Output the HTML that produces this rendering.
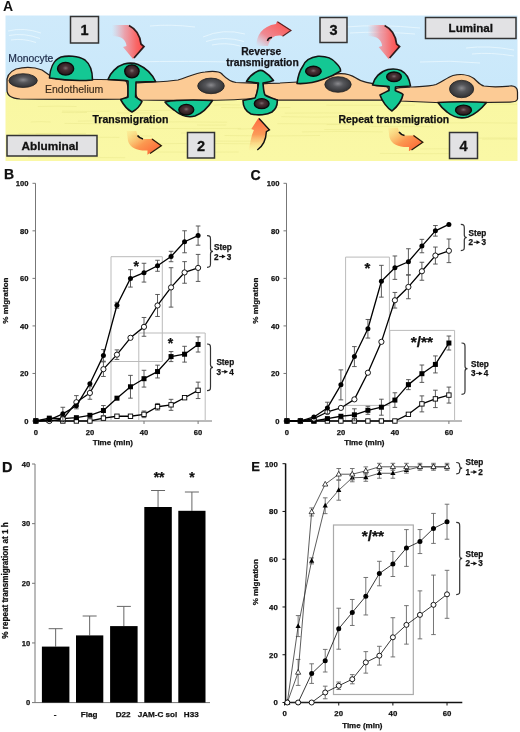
<!DOCTYPE html>
<html><head><meta charset="utf-8"><style>
html,body{margin:0;padding:0;background:#fff;width:520px;height:732px;overflow:hidden;}
svg{display:block;will-change:transform;}
text{font-family:"Liberation Sans",sans-serif;}
</style></head><body>
<svg width="520" height="732" viewBox="0 0 520 732">
<rect width="520" height="732" fill="#fff"/>
<defs>
<linearGradient id="gblue" x1="0" y1="0" x2="0" y2="1"><stop offset="0" stop-color="#cfeafb"/><stop offset="1" stop-color="#c9e8fa"/></linearGradient>
<linearGradient id="gyel" x1="0" y1="0" x2="0" y2="1"><stop offset="0" stop-color="#f9f7a2"/><stop offset="1" stop-color="#faf8a6"/></linearGradient>
<radialGradient id="gnuc" cx="0.5" cy="0.45" r="0.6"><stop offset="0" stop-color="#8a8a8e"/><stop offset="0.35" stop-color="#55565a"/><stop offset="1" stop-color="#2a2a2c"/></radialGradient>
<radialGradient id="gnucm" cx="0.5" cy="0.45" r="0.6"><stop offset="0" stop-color="#7a6a6e"/><stop offset="0.3" stop-color="#4a3236"/><stop offset="0.8" stop-color="#2a1a1e"/><stop offset="1" stop-color="#141012"/></radialGradient>
<linearGradient id="gred1" x1="0" y1="0" x2="1" y2="0"><stop offset="0" stop-color="#f4a0a8" stop-opacity="0"/><stop offset="0.4" stop-color="#f48890" stop-opacity="0.75"/><stop offset="0.75" stop-color="#f86868"/><stop offset="1" stop-color="#ff4848"/></linearGradient>
<linearGradient id="gred2" x1="0" y1="1" x2="1" y2="0"><stop offset="0" stop-color="#f4a0a8" stop-opacity="0"/><stop offset="0.35" stop-color="#f47880" stop-opacity="0.85"/><stop offset="1" stop-color="#ff4a44"/></linearGradient>
<linearGradient id="gor1" x1="0" y1="0" x2="1" y2="1"><stop offset="0" stop-color="#fcd070" stop-opacity="0.2"/><stop offset="0.5" stop-color="#fb9850"/><stop offset="1" stop-color="#ff5a30"/></linearGradient>
<linearGradient id="gor2" x1="0" y1="1" x2="0" y2="0"><stop offset="0" stop-color="#fcd070" stop-opacity="0"/><stop offset="0.5" stop-color="#fb9a58"/><stop offset="1" stop-color="#ff6a40"/></linearGradient>
</defs>
<rect x="5.5" y="15.5" width="512" height="80" fill="url(#gblue)"/>
<rect x="5.5" y="92" width="512" height="69" fill="url(#gyel)"/>
<path d="M77.9 121.1 q39.3 -0.9 78.6 0" stroke="#e9e68a" stroke-width="0.9" fill="none" opacity="0.55"/>
<path d="M181.0 133.0 q12.6 0.0 25.2 0" stroke="#e9e68a" stroke-width="0.9" fill="none" opacity="0.55"/>
<path d="M213.6 105.1 q13.1 -0.8 26.3 0" stroke="#e9e68a" stroke-width="0.9" fill="none" opacity="0.55"/>
<path d="M402.4 126.8 q15.6 -0.6 31.1 0" stroke="#e9e68a" stroke-width="0.9" fill="none" opacity="0.55"/>
<path d="M460.4 138.1 q28.3 -0.2 56.6 0" stroke="#e9e68a" stroke-width="0.9" fill="none" opacity="0.55"/>
<path d="M27.9 157.7 q48.6 -0.4 97.3 0" stroke="#e9e68a" stroke-width="0.9" fill="none" opacity="0.55"/>
<path d="M62.0 111.1 q23.9 0.6 47.8 0" stroke="#e9e68a" stroke-width="0.9" fill="none" opacity="0.55"/>
<path d="M284.7 113.1 q38.8 -0.3 77.5 0" stroke="#e9e68a" stroke-width="0.9" fill="none" opacity="0.55"/>
<path d="M35.6 133.7 q12.7 -0.6 25.4 0" stroke="#e9e68a" stroke-width="0.9" fill="none" opacity="0.55"/>
<path d="M210.7 141.1 q24.1 0.2 48.3 0" stroke="#e9e68a" stroke-width="0.9" fill="none" opacity="0.55"/>
<path d="M149.4 128.4 q45.7 0.4 91.5 0" stroke="#e9e68a" stroke-width="0.9" fill="none" opacity="0.55"/>
<path d="M281.2 116.7 q33.6 0.8 67.3 0" stroke="#e9e68a" stroke-width="0.9" fill="none" opacity="0.55"/>
<path d="M143.7 143.8 q54.1 -0.8 108.2 0" stroke="#e9e68a" stroke-width="0.9" fill="none" opacity="0.55"/>
<path d="M368.9 126.4 q16.8 -0.0 33.7 0" stroke="#e9e68a" stroke-width="0.9" fill="none" opacity="0.55"/>
<path d="M326.2 105.2 q44.4 0.1 88.8 0" stroke="#e9e68a" stroke-width="0.9" fill="none" opacity="0.55"/>
<path d="M156.1 152.0 q41.3 0.2 82.6 0" stroke="#e9e68a" stroke-width="0.9" fill="none" opacity="0.55"/>
<path d="M224.5 135.5 q47.8 0.9 95.6 0" stroke="#e9e68a" stroke-width="0.9" fill="none" opacity="0.55"/>
<path d="M324.3 129.5 q12.7 0.4 25.5 0" stroke="#e9e68a" stroke-width="0.9" fill="none" opacity="0.55"/>
<path d="M482.2 139.2 q17.4 -0.4 34.8 0" stroke="#e9e68a" stroke-width="0.9" fill="none" opacity="0.55"/>
<path d="M326.5 124.6 q11.0 -0.1 22.0 0" stroke="#e9e68a" stroke-width="0.9" fill="none" opacity="0.55"/>
<path d="M61.7 112.4 q12.7 0.5 25.3 0" stroke="#e9e68a" stroke-width="0.9" fill="none" opacity="0.55"/>
<path d="M124.4 110.2 q27.6 0.7 55.2 0" stroke="#e9e68a" stroke-width="0.9" fill="none" opacity="0.55"/>
<path d="M221.1 107.5 q34.7 0.8 69.4 0" stroke="#e9e68a" stroke-width="0.9" fill="none" opacity="0.55"/>
<path d="M420.2 148.9 q22.5 -0.2 45.1 0" stroke="#e9e68a" stroke-width="0.9" fill="none" opacity="0.55"/>
<path d="M429.9 123.1 q43.5 -0.7 87.1 0" stroke="#e9e68a" stroke-width="0.9" fill="none" opacity="0.55"/>
<path d="M116.8 112.9 q20.5 -0.0 41.0 0" stroke="#e9e68a" stroke-width="0.9" fill="none" opacity="0.55"/>
<path d="M131.6 136.0 q10.2 -0.2 20.4 0" stroke="#e9e68a" stroke-width="0.9" fill="none" opacity="0.55"/>
<path d="M277.3 123.7 q52.9 0.4 105.8 0" stroke="#e9e68a" stroke-width="0.9" fill="none" opacity="0.55"/>
<path d="M301.9 131.9 q40.4 -0.9 80.9 0" stroke="#e9e68a" stroke-width="0.9" fill="none" opacity="0.55"/>
<path d="M379.9 153.4 q49.4 0.6 98.7 0" stroke="#e9e68a" stroke-width="0.9" fill="none" opacity="0.55"/>
<path d="M197.0 125.0 q14.7 0.3 29.3 0" stroke="#e9e68a" stroke-width="0.9" fill="none" opacity="0.55"/>
<path d="M37.8 106.5 q19.4 -0.7 38.8 0" stroke="#e9e68a" stroke-width="0.9" fill="none" opacity="0.55"/>
<path d="M30.7 122.0 q10.0 -0.7 20.0 0" stroke="#e9e68a" stroke-width="0.9" fill="none" opacity="0.55"/>
<path d="M180.0 108.7 q11.1 0.7 22.3 0" stroke="#e9e68a" stroke-width="0.9" fill="none" opacity="0.55"/>
<path d="M76.8 137.4 q21.4 -0.3 42.7 0" stroke="#e9e68a" stroke-width="0.9" fill="none" opacity="0.55"/>
<path d="M64.5 123.4 q48.2 1.0 96.4 0" stroke="#e9e68a" stroke-width="0.9" fill="none" opacity="0.55"/>
<path d="M237.7 129.1 q13.9 -0.8 27.7 0" stroke="#e9e68a" stroke-width="0.9" fill="none" opacity="0.55"/>
<path d="M132.6 122.2 q47.3 -0.7 94.6 0" stroke="#e9e68a" stroke-width="0.9" fill="none" opacity="0.55"/>
<path d="M462.0 104.3 q27.5 -0.7 55.0 0" stroke="#e9e68a" stroke-width="0.9" fill="none" opacity="0.55"/>
<path d="M18.5 133.4 q33.8 1.0 67.5 0" stroke="#e9e68a" stroke-width="0.9" fill="none" opacity="0.55"/>
<path d="M8 31 q16 -4 33 2" stroke="#eaf7fe" stroke-width="0.9" fill="none" opacity="0.9"/>
<path d="M9 35.5 q15 -3 31 3" stroke="#eaf7fe" stroke-width="0.9" fill="none" opacity="0.9"/>
<path d="M11 40 q12 -2 25 2.5" stroke="#eaf7fe" stroke-width="0.9" fill="none" opacity="0.9"/>
<path d="M203 37 q20 -9 42 -3" stroke="#eaf7fe" stroke-width="0.9" fill="none" opacity="0.9"/>
<path d="M206 41.5 q18 -6 38 0" stroke="#eaf7fe" stroke-width="0.9" fill="none" opacity="0.9"/>
<path d="M212 45 q14 -3 28 1" stroke="#eaf7fe" stroke-width="0.9" fill="none" opacity="0.9"/>
<path d="M130 62 q60 -1.5 115 0.5" stroke="#eaf7fe" stroke-width="0.9" fill="none" opacity="0.9"/>
<path d="M345 27 q35 -3 75 1" stroke="#eaf7fe" stroke-width="0.9" fill="none" opacity="0.9"/>
<path d="M350 33 q30 -2 65 1" stroke="#eaf7fe" stroke-width="0.9" fill="none" opacity="0.9"/>
<path d="M466 48 q22 -3 48 2" stroke="#eaf7fe" stroke-width="0.9" fill="none" opacity="0.9"/>
<path d="M472 54 q18 -2 42 2" stroke="#eaf7fe" stroke-width="0.9" fill="none" opacity="0.9"/>
<path d="M150 26 q20 -2 45 1" stroke="#eaf7fe" stroke-width="0.9" fill="none" opacity="0.9"/>
<path d="M420 62 q30 -2 60 1" stroke="#eaf7fe" stroke-width="0.9" fill="none" opacity="0.9"/>
<path d="M7 84 C6 77 9 72 16 69 C24 67 34 67 42 70 C47 73 50 77 56 79 L100 79.5 C112 79.5 122 79.5 126 81 C128.5 84 128.5 96 126.5 99 C110 99.5 60 99.5 20 99 C12 98.5 7 96.5 7 90 Z" fill="#fccb95" stroke="#262220" stroke-width="1.25" stroke-linejoin="round"/>
<path d="M135.6 83 C145 82 165 82 178 80 C188 77 195 73 205 72 C213 71 219 71 222 74 C225 77 228 81 236 82.5 C245 83 252 83 257.5 83.5 C258.5 88 257 94 255 98.5 C230 100.5 170 100.5 140 100 C136.5 99 135.6 96 135.6 90 Z" fill="#fccb95" stroke="#262220" stroke-width="1.25" stroke-linejoin="round"/>
<path d="M263 84 C266 83 272 83 280 83 L298 82 C312 81 325 76 333 74.5 C342 72.5 350 74 356 78 C362 82.5 372 84 384 85 C388 86 389.5 91 389 96 C388.5 100 385 100.2 380 100.2 L278 100.2 C272 99 266 97 264 94.5 C263 91 262.8 87 263 84 Z" fill="#fccb95" stroke="#262220" stroke-width="1.25" stroke-linejoin="round"/>
<path d="M395.5 89 C397 87.3 402 87 410 87 C420 86.5 430 86.5 436 84.5 C442 82 447 77.5 453 75.5 C459 74 468 74 474 78.5 C478 82 480 85 484 86 C490 87 500 87 510 86 C515 85.5 517.5 88 517.5 92 L517.5 99 C517 101.5 514 102 510 102 L447 103 L400 101 C396.5 100.5 395.5 98 395.5 95 Z" fill="#fccb95" stroke="#262220" stroke-width="1.25" stroke-linejoin="round"/>
<ellipse cx="23.1" cy="80.6" rx="14.2" ry="6.9" fill="url(#gnuc)" stroke="#222" stroke-width="0.8"/>
<ellipse cx="211" cy="85.9" rx="13.3" ry="7.8" fill="url(#gnuc)" stroke="#222" stroke-width="0.8"/>
<ellipse cx="338" cy="84.5" rx="13.2" ry="7.8" fill="url(#gnuc)" stroke="#222" stroke-width="0.8"/>
<ellipse cx="461.6" cy="89" rx="12.1" ry="8.7" fill="url(#gnuc)" stroke="#222" stroke-width="0.8"/>
<path d="M49.5 78 C50 70 53 60 61 57 C67 55.5 78 55.5 85 60 C90 64 92.5 72 92.5 80 C80 81 62 80 49.5 78 Z" fill="#14c894" stroke="#141414" stroke-width="1.6" stroke-linejoin="round"/>
<path d="M108 79.5 C110 73 117 66 124 64 C128 63 134 63 138 64.5 C146 68 152 74 155.6 81.5 C150 82 142 81.5 136 82 L135.6 97 C138 99 141 100 142 101.5 C140 106 136 110 132 112 C128 110 123 104 120.6 99.5 C123 98.5 126 98 128 97 L128 81 C121 80 114 80 108 79.5 Z" fill="#14c894" stroke="#141414" stroke-width="1.6" stroke-linejoin="round"/>
<path d="M165 102 C175 100 200 100 212.5 100.5 C209 106 203 113 195 116 C188 118 180 115 174 110 C170 107 167 104.5 165 102 Z" fill="#14c894" stroke="#141414" stroke-width="1.6" stroke-linejoin="round"/>
<path d="M246.5 81.5 C249 77 253 73.5 257 71.5 C259 70.3 262 70 264 71.5 C268 74 271 77 273.5 80.5 C270 82 266 82.5 263 83 C263.5 88 263.5 92 265 95 C268 97 273 98.5 277.3 100 C277.5 104 276 109 272 112 C267 115 258 115.5 251 114 C246 111.5 243 107 243 100.5 C248 99.5 253 98.5 255 98 C257 94 258 88 258.5 83 C254 82.5 250 82 246.5 81.5 Z" fill="#14c894" stroke="#141414" stroke-width="1.6" stroke-linejoin="round"/>
<path d="M297 83.5 C298 76 300 70 303 66 C305 61 309 57.5 318 56.3 C326 56 332 58 336 63 C339 66 341 69 340.6 71 C336 74 330 77 324 79 C316 82 305 84 297 83.5 Z" fill="#14c894" stroke="#141414" stroke-width="1.6" stroke-linejoin="round"/>
<path d="M372.5 85 C374 78 380 71.5 388 69.5 C392 68.8 397 68.8 401 70.5 C406 73 409.5 79 410.5 86 C405 86.5 400 86.5 395.5 87 L395.3 90.5 C398 92 402 93 403 94.5 C402 100 398 106 392 111 C387 108 382 101 380 95 C383 93 386 92 389 90.5 L389 86.5 C383 86 377 86 372.5 85 Z" fill="#14c894" stroke="#141414" stroke-width="1.6" stroke-linejoin="round"/>
<path d="M438 102.5 C450 101.5 475 101.5 486.5 102.5 C482 108 476 114 468 117 C461 119 453 117 447 112 C443 109 440 105.5 438 102.5 Z" fill="#14c894" stroke="#141414" stroke-width="1.6" stroke-linejoin="round"/>
<ellipse cx="65.6" cy="68.75" rx="8.1" ry="6.3" fill="url(#gnucm)" stroke="#0a0a0a" stroke-width="1.3"/>
<ellipse cx="131.9" cy="71.3" rx="7.2" ry="6.5" fill="url(#gnucm)" stroke="#0a0a0a" stroke-width="1.3"/>
<ellipse cx="186.3" cy="109.7" rx="7.5" ry="5.3" fill="url(#gnucm)" stroke="#0a0a0a" stroke-width="1.3"/>
<ellipse cx="261.7" cy="103.7" rx="7.4" ry="5" fill="url(#gnucm)" stroke="#0a0a0a" stroke-width="1.3"/>
<ellipse cx="313.4" cy="71.25" rx="7.8" ry="5" fill="url(#gnucm)" stroke="#0a0a0a" stroke-width="1.3"/>
<ellipse cx="394" cy="76.8" rx="7.4" ry="4.8" fill="url(#gnucm)" stroke="#0a0a0a" stroke-width="1.3"/>
<ellipse cx="463.5" cy="110.2" rx="8" ry="5" fill="url(#gnucm)" stroke="#0a0a0a" stroke-width="1.3"/>
<path d="M112 25 L128 25 C135 28 140 35 141 44 L144 46.5 L133 59 L123 47 L126.5 46 C126 40 122 36 112 36 Z" fill="url(#gred1)"/>
<path d="M129 25.5 C136 29 140 35 141 44 L144 46.5 L134 58" fill="none" stroke="#1a0a0a" stroke-width="1.7" opacity="0.9"/>
<g transform="translate(255.6 0)"><path d="M112 25 L128 25 C135 28 140 35 141 44 L144 46.5 L133 59 L123 47 L126.5 46 C126 40 122 36 112 36 Z" fill="url(#gred1)"/><path d="M129 25.5 C136 29 140 35 141 44 L144 46.5 L134 58" fill="none" stroke="#1a0a0a" stroke-width="1.7" opacity="0.9"/></g>
<path d="M256.5 46 C256 36 262 26 276 24 L277 21.3 L291.6 30.3 L282.6 36.2 L280.5 35.5 C274 35 270 38 268 46 Z" fill="url(#gred2)"/>
<path d="M267.5 41 C268 38.5 270 37.5 272 37.5" fill="none" stroke="#111" stroke-width="1.6"/>
<path d="M277.5 21.8 L291 30.5 L282.6 36.2" fill="none" stroke="#3a1010" stroke-width="1.1" opacity="0.85"/>
<path d="M126.7 131 L136.3 131 C137 135 139 138 144 139 L151.7 139 L151.3 138 L161.3 145.7 L147.4 154.8 L147.5 150.5 C138 151 130 148 128 141 Z" fill="url(#gor1)"/>
<path d="M137.5 135.5 C139 137.5 141 138.6 143 139" fill="none" stroke="#111" stroke-width="1.6"/>
<path d="M152 139 L161.3 145.7 L150 153.5" fill="none" stroke="#2a1a0a" stroke-width="1.3"/>
<g transform="translate(261.5 -3.5)"><path d="M126.7 131 L136.3 131 C137 135 139 138 144 139 L151.7 139 L151.3 138 L161.3 145.7 L147.4 154.8 L147.5 150.5 C138 151 130 148 128 141 Z" fill="url(#gor1)"/><path d="M137.5 135.5 C139 137.5 141 138.6 143 139" fill="none" stroke="#111" stroke-width="1.6"/><path d="M152 139 L161.3 145.7 L150 153.5" fill="none" stroke="#2a1a0a" stroke-width="1.3"/></g>
<path d="M248.7 151 C250 144 251 136 253.9 130 L251.3 129 L258.6 117.8 L269.4 129.9 L266.4 131.6 C266 140 263 146 257.3 150 Z" fill="url(#gor2)"/>
<path d="M259 118.5 L269.4 129.9 L266.4 131.6 C266 140 263 146 257.3 150" fill="none" stroke="#111" stroke-width="1.4"/>
<rect x="70.5" y="16.5" width="28" height="26.5" fill="#e2e2e4" stroke="#333" stroke-width="1.5"/><text x="84.5" y="35.0" font-size="14.5" font-weight="bold" text-anchor="middle" font-family="Liberation Sans, sans-serif" fill="#111" stroke="#111" stroke-width="0.3">1</text>
<rect x="187.5" y="132.5" width="27" height="25.5" fill="#e2e2e4" stroke="#333" stroke-width="1.5"/><text x="201.0" y="150.5" font-size="14.5" font-weight="bold" text-anchor="middle" font-family="Liberation Sans, sans-serif" fill="#111" stroke="#111" stroke-width="0.3">2</text>
<rect x="320" y="17.5" width="27" height="25" fill="#e2e2e4" stroke="#333" stroke-width="1.5"/><text x="333.5" y="35.2" font-size="14.5" font-weight="bold" text-anchor="middle" font-family="Liberation Sans, sans-serif" fill="#111" stroke="#111" stroke-width="0.3">3</text>
<rect x="449.5" y="132.5" width="28" height="26" fill="#e2e2e4" stroke="#333" stroke-width="1.5"/><text x="463.5" y="150.7" font-size="14.5" font-weight="bold" text-anchor="middle" font-family="Liberation Sans, sans-serif" fill="#111" stroke="#111" stroke-width="0.3">4</text>
<rect x="425.5" y="17.5" width="90.5" height="21" fill="#e2e2e4" stroke="#333" stroke-width="1.5"/><text x="470.8" y="32.2" font-size="11.6" font-weight="bold" text-anchor="middle" font-family="Liberation Sans, sans-serif" fill="#111" stroke="#111" stroke-width="0.3">Luminal</text>
<rect x="7" y="135.5" width="90" height="20.5" fill="#e2e2e4" stroke="#333" stroke-width="1.5"/><text x="50" y="150.0" font-size="11.8" font-weight="bold" text-anchor="middle" font-family="Liberation Sans, sans-serif" fill="#111" stroke="#111" stroke-width="0.3">Abluminal</text>
<text x="8.3" y="61.5" font-size="10.4" font-family="Liberation Sans, sans-serif" fill="#1c2a48" stroke="#1c2a48" stroke-width="0.2">Monocyte</text>
<text x="45" y="93" font-size="10.5" font-family="Liberation Sans, sans-serif" fill="#3a2a1a" stroke="#3a2a1a" stroke-width="0.15">Endothelium</text>
<text x="92.5" y="122.5" font-size="10.5" font-weight="bold" font-family="Liberation Sans, sans-serif" fill="#111" stroke="#111" stroke-width="0.25">Transmigration</text>
<text x="261.2" y="54.8" font-size="10.3" font-weight="bold" text-anchor="middle" font-family="Liberation Sans, sans-serif" fill="#141418" stroke="#141418" stroke-width="0.25">Reverse</text>
<text x="262.5" y="66.3" font-size="10.35" font-weight="bold" text-anchor="middle" font-family="Liberation Sans, sans-serif" fill="#141418" stroke="#141418" stroke-width="0.25">transmigration</text>
<text x="338.5" y="123" font-size="10.43" font-weight="bold" font-family="Liberation Sans, sans-serif" fill="#111" stroke="#111" stroke-width="0.25">Repeat transmigration</text>
<text x="3.1" y="11.2" font-size="14" font-weight="bold" font-family="Liberation Sans, sans-serif" fill="#111">A</text>
<text x="4.1" y="178.5" font-size="14" font-weight="bold" text-anchor="start" font-family="Liberation Sans, sans-serif" fill="#111" stroke="#111" stroke-width="0.25" >B</text>
<path d="M35.5 183.3 V421 H212" stroke="#777" stroke-width="1.0" fill="none"/>
<path d="M32.5 421.00 H35.5" stroke="#777" stroke-width="1.0"/>
<text x="28.5" y="423.7" font-size="7.6" font-weight="bold" text-anchor="end" font-family="Liberation Sans, sans-serif" fill="#111" stroke="#111" stroke-width="0.25" >0</text>
<path d="M32.5 373.46 H35.5" stroke="#777" stroke-width="1.0"/>
<text x="28.5" y="376.2" font-size="7.6" font-weight="bold" text-anchor="end" font-family="Liberation Sans, sans-serif" fill="#111" stroke="#111" stroke-width="0.25" >20</text>
<path d="M32.5 325.92 H35.5" stroke="#777" stroke-width="1.0"/>
<text x="28.5" y="328.7" font-size="7.6" font-weight="bold" text-anchor="end" font-family="Liberation Sans, sans-serif" fill="#111" stroke="#111" stroke-width="0.25" >40</text>
<path d="M32.5 278.38 H35.5" stroke="#777" stroke-width="1.0"/>
<text x="28.5" y="281.1" font-size="7.6" font-weight="bold" text-anchor="end" font-family="Liberation Sans, sans-serif" fill="#111" stroke="#111" stroke-width="0.25" >60</text>
<path d="M32.5 230.84 H35.5" stroke="#777" stroke-width="1.0"/>
<text x="28.5" y="233.6" font-size="7.6" font-weight="bold" text-anchor="end" font-family="Liberation Sans, sans-serif" fill="#111" stroke="#111" stroke-width="0.25" >80</text>
<path d="M32.5 183.30 H35.5" stroke="#777" stroke-width="1.0"/>
<text x="28.5" y="186.0" font-size="7.6" font-weight="bold" text-anchor="end" font-family="Liberation Sans, sans-serif" fill="#111" stroke="#111" stroke-width="0.25" >100</text>
<path d="M35.80 421 V424" stroke="#777" stroke-width="1.0"/>
<text x="35.8" y="434.5" font-size="7.6" font-weight="bold" text-anchor="middle" font-family="Liberation Sans, sans-serif" fill="#111" stroke="#111" stroke-width="0.25" >0</text>
<path d="M89.90 421 V424" stroke="#777" stroke-width="1.0"/>
<text x="89.9" y="434.5" font-size="7.6" font-weight="bold" text-anchor="middle" font-family="Liberation Sans, sans-serif" fill="#111" stroke="#111" stroke-width="0.25" >20</text>
<path d="M144.00 421 V424" stroke="#777" stroke-width="1.0"/>
<text x="144.0" y="434.5" font-size="7.6" font-weight="bold" text-anchor="middle" font-family="Liberation Sans, sans-serif" fill="#111" stroke="#111" stroke-width="0.25" >40</text>
<path d="M198.10 421 V424" stroke="#777" stroke-width="1.0"/>
<text x="198.1" y="434.5" font-size="7.6" font-weight="bold" text-anchor="middle" font-family="Liberation Sans, sans-serif" fill="#111" stroke="#111" stroke-width="0.25" >60</text>
<text transform="translate(8.2 300.6) rotate(-90)" font-size="8.1" font-weight="bold" text-anchor="middle" font-family="Liberation Sans, sans-serif" fill="#111" stroke="#111" stroke-width="0.25">% migration</text>
<text x="112.8" y="445.3" font-size="8" font-weight="bold" text-anchor="middle" font-family="Liberation Sans, sans-serif" fill="#111" stroke="#111" stroke-width="0.25" >Time (min)</text>
<path d="M111 421 V256.7 H162.3 V361.5 H111" stroke="#bbb" stroke-width="1" fill="none"/>
<path d="M138.8 421 V333 H205.2 V421" stroke="#bbb" stroke-width="1" fill="none"/>
<path d="M144.00 411.04 V417.64 M141.70 411.04 H146.30 M141.70 417.64 H146.30" stroke="#4a4a4a" stroke-width="0.9" fill="none"/>
<path d="M157.53 403.44 V410.04 M155.22 403.44 H159.83 M155.22 410.04 H159.83" stroke="#4a4a4a" stroke-width="0.9" fill="none"/>
<path d="M171.05 399.34 V410.34 M168.75 399.34 H173.35 M168.75 410.34 H173.35" stroke="#4a4a4a" stroke-width="0.9" fill="none"/>
<path d="M198.10 382.14 V398.54 M195.80 382.14 H200.40 M195.80 398.54 H200.40" stroke="#4a4a4a" stroke-width="0.9" fill="none"/>
<path d="M35.80 421.00 L49.32 420.29 L62.85 421.00 L76.38 421.00 L89.90 421.00 L103.42 418.15 L116.95 416.25 L130.47 416.25 L144.00 414.34 L157.53 406.74 L171.05 404.84 L184.57 397.71 L198.10 390.34" stroke="#000" stroke-width="1.3" fill="none" stroke-linejoin="round"/>
<rect x="33.60" y="418.80" width="4.4" height="4.4" fill="#fff" stroke="#000" stroke-width="0.9"/>
<rect x="47.12" y="418.09" width="4.4" height="4.4" fill="#fff" stroke="#000" stroke-width="0.9"/>
<rect x="60.65" y="418.80" width="4.4" height="4.4" fill="#fff" stroke="#000" stroke-width="0.9"/>
<rect x="74.18" y="418.80" width="4.4" height="4.4" fill="#fff" stroke="#000" stroke-width="0.9"/>
<rect x="87.70" y="418.80" width="4.4" height="4.4" fill="#fff" stroke="#000" stroke-width="0.9"/>
<rect x="101.23" y="415.95" width="4.4" height="4.4" fill="#fff" stroke="#000" stroke-width="0.9"/>
<rect x="114.75" y="414.05" width="4.4" height="4.4" fill="#fff" stroke="#000" stroke-width="0.9"/>
<rect x="128.28" y="414.05" width="4.4" height="4.4" fill="#fff" stroke="#000" stroke-width="0.9"/>
<rect x="141.80" y="412.14" width="4.4" height="4.4" fill="#fff" stroke="#000" stroke-width="0.9"/>
<rect x="155.33" y="404.54" width="4.4" height="4.4" fill="#fff" stroke="#000" stroke-width="0.9"/>
<rect x="168.85" y="402.64" width="4.4" height="4.4" fill="#fff" stroke="#000" stroke-width="0.9"/>
<rect x="182.38" y="395.51" width="4.4" height="4.4" fill="#fff" stroke="#000" stroke-width="0.9"/>
<rect x="195.90" y="388.14" width="4.4" height="4.4" fill="#fff" stroke="#000" stroke-width="0.9"/>
<path d="M103.42 405.54 V415.54 M101.12 405.54 H105.72 M101.12 415.54 H105.72" stroke="#4a4a4a" stroke-width="0.9" fill="none"/>
<path d="M130.47 375.37 V398.17 M128.17 375.37 H132.78 M128.17 398.17 H132.78" stroke="#4a4a4a" stroke-width="0.9" fill="none"/>
<path d="M144.00 370.29 V387.09 M141.70 370.29 H146.30 M141.70 387.09 H146.30" stroke="#4a4a4a" stroke-width="0.9" fill="none"/>
<path d="M157.53 365.16 V377.96 M155.22 365.16 H159.83 M155.22 377.96 H159.83" stroke="#4a4a4a" stroke-width="0.9" fill="none"/>
<path d="M171.05 351.58 V361.58 M168.75 351.58 H173.35 M168.75 361.58 H173.35" stroke="#4a4a4a" stroke-width="0.9" fill="none"/>
<path d="M184.57 346.31 V362.11 M182.27 346.31 H186.88 M182.27 362.11 H186.88" stroke="#4a4a4a" stroke-width="0.9" fill="none"/>
<path d="M198.10 336.86 V352.06 M195.80 336.86 H200.40 M195.80 352.06 H200.40" stroke="#4a4a4a" stroke-width="0.9" fill="none"/>
<path d="M35.80 421.00 L49.32 418.15 L62.85 418.62 L76.38 417.67 L89.90 415.30 L103.42 410.54 L116.95 398.18 L130.47 386.77 L144.00 378.69 L157.53 371.56 L171.05 356.58 L184.57 354.21 L198.10 344.46" stroke="#000" stroke-width="1.3" fill="none" stroke-linejoin="round"/>
<rect x="33.30" y="418.50" width="5.0" height="5.0" fill="#000"/>
<rect x="46.82" y="415.65" width="5.0" height="5.0" fill="#000"/>
<rect x="60.35" y="416.12" width="5.0" height="5.0" fill="#000"/>
<rect x="73.88" y="415.17" width="5.0" height="5.0" fill="#000"/>
<rect x="87.40" y="412.80" width="5.0" height="5.0" fill="#000"/>
<rect x="100.92" y="408.04" width="5.0" height="5.0" fill="#000"/>
<rect x="114.45" y="395.68" width="5.0" height="5.0" fill="#000"/>
<rect x="127.97" y="384.27" width="5.0" height="5.0" fill="#000"/>
<rect x="141.50" y="376.19" width="5.0" height="5.0" fill="#000"/>
<rect x="155.03" y="369.06" width="5.0" height="5.0" fill="#000"/>
<rect x="168.55" y="354.08" width="5.0" height="5.0" fill="#000"/>
<rect x="182.07" y="351.71" width="5.0" height="5.0" fill="#000"/>
<rect x="195.60" y="341.96" width="5.0" height="5.0" fill="#000"/>
<path d="M76.38 395.62 V408.82 M74.08 395.62 H78.67 M74.08 408.82 H78.67" stroke="#4a4a4a" stroke-width="0.9" fill="none"/>
<path d="M89.90 386.65 V399.25 M87.60 386.65 H92.20 M87.60 399.25 H92.20" stroke="#4a4a4a" stroke-width="0.9" fill="none"/>
<path d="M103.42 361.88 V376.48 M101.12 361.88 H105.72 M101.12 376.48 H105.72" stroke="#4a4a4a" stroke-width="0.9" fill="none"/>
<path d="M116.95 349.88 V359.48 M114.65 349.88 H119.25 M114.65 359.48 H119.25" stroke="#4a4a4a" stroke-width="0.9" fill="none"/>
<path d="M144.00 317.47 V336.27 M141.70 317.47 H146.30 M141.70 336.27 H146.30" stroke="#4a4a4a" stroke-width="0.9" fill="none"/>
<path d="M157.53 294.48 V316.48 M155.22 294.48 H159.83 M155.22 316.48 H159.83" stroke="#4a4a4a" stroke-width="0.9" fill="none"/>
<path d="M171.05 267.71 V307.11 M168.75 267.71 H173.35 M168.75 307.11 H173.35" stroke="#4a4a4a" stroke-width="0.9" fill="none"/>
<path d="M184.57 261.64 V283.24 M182.27 261.64 H186.88 M182.27 283.24 H186.88" stroke="#4a4a4a" stroke-width="0.9" fill="none"/>
<path d="M198.10 254.42 V281.42 M195.80 254.42 H200.40 M195.80 281.42 H200.40" stroke="#4a4a4a" stroke-width="0.9" fill="none"/>
<path d="M35.80 421.00 L49.32 421.00 L62.85 419.10 L76.38 402.22 L89.90 392.95 L103.42 369.18 L116.95 354.68 L130.47 337.81 L144.00 326.87 L157.53 305.48 L171.05 287.41 L184.57 272.44 L198.10 267.92" stroke="#000" stroke-width="1.3" fill="none" stroke-linejoin="round"/>
<circle cx="35.80" cy="421.00" r="2.6" fill="#fff" stroke="#000" stroke-width="0.9"/>
<circle cx="49.32" cy="421.00" r="2.6" fill="#fff" stroke="#000" stroke-width="0.9"/>
<circle cx="62.85" cy="419.10" r="2.6" fill="#fff" stroke="#000" stroke-width="0.9"/>
<circle cx="76.38" cy="402.22" r="2.6" fill="#fff" stroke="#000" stroke-width="0.9"/>
<circle cx="89.90" cy="392.95" r="2.6" fill="#fff" stroke="#000" stroke-width="0.9"/>
<circle cx="103.42" cy="369.18" r="2.6" fill="#fff" stroke="#000" stroke-width="0.9"/>
<circle cx="116.95" cy="354.68" r="2.6" fill="#fff" stroke="#000" stroke-width="0.9"/>
<circle cx="130.47" cy="337.81" r="2.6" fill="#fff" stroke="#000" stroke-width="0.9"/>
<circle cx="144.00" cy="326.87" r="2.6" fill="#fff" stroke="#000" stroke-width="0.9"/>
<circle cx="157.53" cy="305.48" r="2.6" fill="#fff" stroke="#000" stroke-width="0.9"/>
<circle cx="171.05" cy="287.41" r="2.6" fill="#fff" stroke="#000" stroke-width="0.9"/>
<circle cx="184.57" cy="272.44" r="2.6" fill="#fff" stroke="#000" stroke-width="0.9"/>
<circle cx="198.10" cy="267.92" r="2.6" fill="#fff" stroke="#000" stroke-width="0.9"/>
<path d="M62.85 407.27 V420.47 M60.55 407.27 H65.15 M60.55 420.47 H65.15" stroke="#4a4a4a" stroke-width="0.9" fill="none"/>
<path d="M103.42 349.59 V361.19 M101.12 349.59 H105.72 M101.12 361.19 H105.72" stroke="#4a4a4a" stroke-width="0.9" fill="none"/>
<path d="M116.95 302.24 V308.24 M114.65 302.24 H119.25 M114.65 308.24 H119.25" stroke="#4a4a4a" stroke-width="0.9" fill="none"/>
<path d="M130.47 269.68 V287.08 M128.17 269.68 H132.78 M128.17 287.08 H132.78" stroke="#4a4a4a" stroke-width="0.9" fill="none"/>
<path d="M144.00 263.28 V282.08 M141.70 263.28 H146.30 M141.70 282.08 H146.30" stroke="#4a4a4a" stroke-width="0.9" fill="none"/>
<path d="M157.53 260.28 V271.28 M155.22 260.28 H159.83 M155.22 271.28 H159.83" stroke="#4a4a4a" stroke-width="0.9" fill="none"/>
<path d="M171.05 251.31 V261.71 M168.75 251.31 H173.35 M168.75 261.71 H173.35" stroke="#4a4a4a" stroke-width="0.9" fill="none"/>
<path d="M184.57 230.77 V252.77 M182.27 230.77 H186.88 M182.27 252.77 H186.88" stroke="#4a4a4a" stroke-width="0.9" fill="none"/>
<path d="M198.10 225.99 V245.19 M195.80 225.99 H200.40 M195.80 245.19 H200.40" stroke="#4a4a4a" stroke-width="0.9" fill="none"/>
<path d="M35.80 421.00 L49.32 419.81 L62.85 413.87 L76.38 405.79 L89.90 383.68 L103.42 355.39 L116.95 305.24 L130.47 278.38 L144.00 272.68 L157.53 265.78 L171.05 256.51 L184.57 241.77 L198.10 235.59" stroke="#000" stroke-width="1.3" fill="none" stroke-linejoin="round"/>
<circle cx="35.80" cy="421.00" r="2.5" fill="#000"/>
<circle cx="49.32" cy="419.81" r="2.5" fill="#000"/>
<circle cx="62.85" cy="413.87" r="2.5" fill="#000"/>
<circle cx="76.38" cy="405.79" r="2.5" fill="#000"/>
<circle cx="89.90" cy="383.68" r="2.5" fill="#000"/>
<circle cx="103.42" cy="355.39" r="2.5" fill="#000"/>
<circle cx="116.95" cy="305.24" r="2.5" fill="#000"/>
<circle cx="130.47" cy="278.38" r="2.5" fill="#000"/>
<circle cx="144.00" cy="272.68" r="2.5" fill="#000"/>
<circle cx="157.53" cy="265.78" r="2.5" fill="#000"/>
<circle cx="171.05" cy="256.51" r="2.5" fill="#000"/>
<circle cx="184.57" cy="241.77" r="2.5" fill="#000"/>
<circle cx="198.10" cy="235.59" r="2.5" fill="#000"/>
<text x="136.3" y="270.6" font-size="14" font-weight="bold" text-anchor="middle" font-family="Liberation Sans, sans-serif" fill="#111" stroke="#111" stroke-width="0.25" >*</text>
<text x="170.6" y="347.9" font-size="14" font-weight="bold" text-anchor="middle" font-family="Liberation Sans, sans-serif" fill="#111" stroke="#111" stroke-width="0.25" >*</text>
<path d="M207 235.6 C210.5 235.6 210.5 237.1 210.5 239.6 L210.5 248.95 C210.5 250.64999999999998 212 251.45 213.0 251.45 C212 251.45 210.5 252.25 210.5 253.95 L210.5 263.3 C210.5 265.8 210.5 267.3 207 267.3" stroke="#333" stroke-width="1.2" fill="none"/>
<text x="214.0" y="249.8" font-size="8.2" font-weight="bold" text-anchor="start" font-family="Liberation Sans, sans-serif" fill="#111" stroke="#111" stroke-width="0.25" >Step</text>
<text x="214.0" y="259.5" font-size="8.2" font-weight="bold" text-anchor="start" font-family="Liberation Sans, sans-serif" fill="#111" stroke="#111" stroke-width="0.25" >2</text><path d="M219.1 256.6 H222.8" stroke="#111" stroke-width="1.0"/><path d="M221.9 254.6 L225.7 256.6 L221.9 258.6 Z" fill="#111"/><text x="226.8" y="259.5" font-size="8.2" font-weight="bold" text-anchor="start" font-family="Liberation Sans, sans-serif" fill="#111" stroke="#111" stroke-width="0.25" >3</text>
<path d="M207 344 C210.5 344 210.5 345.5 210.5 348 L210.5 364.85 C210.5 366.55 212 367.35 213.0 367.35 C212 367.35 210.5 368.15000000000003 210.5 369.85 L210.5 386.7 C210.5 389.2 210.5 390.7 207 390.7" stroke="#333" stroke-width="1.2" fill="none"/>
<text x="216.4" y="364.9" font-size="8.2" font-weight="bold" text-anchor="start" font-family="Liberation Sans, sans-serif" fill="#111" stroke="#111" stroke-width="0.25" >Step</text>
<text x="216.4" y="374.6" font-size="8.2" font-weight="bold" text-anchor="start" font-family="Liberation Sans, sans-serif" fill="#111" stroke="#111" stroke-width="0.25" >3</text><path d="M221.5 371.7 H225.2" stroke="#111" stroke-width="1.0"/><path d="M224.3 369.7 L228.1 371.7 L224.3 373.7 Z" fill="#111"/><text x="229.2" y="374.6" font-size="8.2" font-weight="bold" text-anchor="start" font-family="Liberation Sans, sans-serif" fill="#111" stroke="#111" stroke-width="0.25" >4</text>
<text x="250.6" y="180.0" font-size="14" font-weight="bold" text-anchor="start" font-family="Liberation Sans, sans-serif" fill="#111" stroke="#111" stroke-width="0.25" >C</text>
<path d="M286.5 183.3 V421 H462" stroke="#777" stroke-width="1.0" fill="none"/>
<path d="M283.5 421.00 H286.5" stroke="#777" stroke-width="1.0"/>
<text x="279.5" y="423.7" font-size="7.6" font-weight="bold" text-anchor="end" font-family="Liberation Sans, sans-serif" fill="#111" stroke="#111" stroke-width="0.25" >0</text>
<path d="M283.5 373.46 H286.5" stroke="#777" stroke-width="1.0"/>
<text x="279.5" y="376.2" font-size="7.6" font-weight="bold" text-anchor="end" font-family="Liberation Sans, sans-serif" fill="#111" stroke="#111" stroke-width="0.25" >20</text>
<path d="M283.5 325.92 H286.5" stroke="#777" stroke-width="1.0"/>
<text x="279.5" y="328.7" font-size="7.6" font-weight="bold" text-anchor="end" font-family="Liberation Sans, sans-serif" fill="#111" stroke="#111" stroke-width="0.25" >40</text>
<path d="M283.5 278.38 H286.5" stroke="#777" stroke-width="1.0"/>
<text x="279.5" y="281.1" font-size="7.6" font-weight="bold" text-anchor="end" font-family="Liberation Sans, sans-serif" fill="#111" stroke="#111" stroke-width="0.25" >60</text>
<path d="M283.5 230.84 H286.5" stroke="#777" stroke-width="1.0"/>
<text x="279.5" y="233.6" font-size="7.6" font-weight="bold" text-anchor="end" font-family="Liberation Sans, sans-serif" fill="#111" stroke="#111" stroke-width="0.25" >80</text>
<path d="M283.5 183.30 H286.5" stroke="#777" stroke-width="1.0"/>
<text x="279.5" y="186.0" font-size="7.6" font-weight="bold" text-anchor="end" font-family="Liberation Sans, sans-serif" fill="#111" stroke="#111" stroke-width="0.25" >100</text>
<path d="M286.90 421 V424" stroke="#777" stroke-width="1.0"/>
<text x="286.9" y="434.5" font-size="7.6" font-weight="bold" text-anchor="middle" font-family="Liberation Sans, sans-serif" fill="#111" stroke="#111" stroke-width="0.25" >0</text>
<path d="M340.90 421 V424" stroke="#777" stroke-width="1.0"/>
<text x="340.9" y="434.5" font-size="7.6" font-weight="bold" text-anchor="middle" font-family="Liberation Sans, sans-serif" fill="#111" stroke="#111" stroke-width="0.25" >20</text>
<path d="M394.90 421 V424" stroke="#777" stroke-width="1.0"/>
<text x="394.9" y="434.5" font-size="7.6" font-weight="bold" text-anchor="middle" font-family="Liberation Sans, sans-serif" fill="#111" stroke="#111" stroke-width="0.25" >40</text>
<path d="M448.90 421 V424" stroke="#777" stroke-width="1.0"/>
<text x="448.9" y="434.5" font-size="7.6" font-weight="bold" text-anchor="middle" font-family="Liberation Sans, sans-serif" fill="#111" stroke="#111" stroke-width="0.25" >60</text>
<text transform="translate(258 300.6) rotate(-90)" font-size="8.1" font-weight="bold" text-anchor="middle" font-family="Liberation Sans, sans-serif" fill="#111" stroke="#111" stroke-width="0.25">% migration</text>
<text x="364.3" y="445.3" font-size="8" font-weight="bold" text-anchor="middle" font-family="Liberation Sans, sans-serif" fill="#111" stroke="#111" stroke-width="0.25" >Time (min)</text>
<path d="M345.6 421 V257.1 H389.4 V405.4 H345.6" stroke="#bbb" stroke-width="1" fill="none"/>
<path d="M389.8 421 V330.4 H454.6 V421" stroke="#bbb" stroke-width="1" fill="none"/>
<path d="M421.90 395.89 V411.89 M419.60 395.89 H424.20 M419.60 411.89 H424.20" stroke="#4a4a4a" stroke-width="0.9" fill="none"/>
<path d="M435.40 390.19 V407.59 M433.10 390.19 H437.70 M433.10 407.59 H437.70" stroke="#4a4a4a" stroke-width="0.9" fill="none"/>
<path d="M448.90 387.09 V403.09 M446.60 387.09 H451.20 M446.60 403.09 H451.20" stroke="#4a4a4a" stroke-width="0.9" fill="none"/>
<path d="M286.90 421.00 L300.40 421.00 L313.90 421.00 L327.40 421.00 L340.90 421.00 L354.40 421.00 L367.90 421.00 L381.40 421.00 L394.90 421.00 L408.40 414.34 L421.90 403.89 L435.40 398.89 L448.90 395.09" stroke="#000" stroke-width="1.3" fill="none" stroke-linejoin="round"/>
<rect x="284.70" y="418.80" width="4.4" height="4.4" fill="#fff" stroke="#000" stroke-width="0.9"/>
<rect x="298.20" y="418.80" width="4.4" height="4.4" fill="#fff" stroke="#000" stroke-width="0.9"/>
<rect x="311.70" y="418.80" width="4.4" height="4.4" fill="#fff" stroke="#000" stroke-width="0.9"/>
<rect x="325.20" y="418.80" width="4.4" height="4.4" fill="#fff" stroke="#000" stroke-width="0.9"/>
<rect x="338.70" y="418.80" width="4.4" height="4.4" fill="#fff" stroke="#000" stroke-width="0.9"/>
<rect x="352.20" y="418.80" width="4.4" height="4.4" fill="#fff" stroke="#000" stroke-width="0.9"/>
<rect x="365.70" y="418.80" width="4.4" height="4.4" fill="#fff" stroke="#000" stroke-width="0.9"/>
<rect x="379.20" y="418.80" width="4.4" height="4.4" fill="#fff" stroke="#000" stroke-width="0.9"/>
<rect x="392.70" y="418.80" width="4.4" height="4.4" fill="#fff" stroke="#000" stroke-width="0.9"/>
<rect x="406.20" y="412.14" width="4.4" height="4.4" fill="#fff" stroke="#000" stroke-width="0.9"/>
<rect x="419.70" y="401.69" width="4.4" height="4.4" fill="#fff" stroke="#000" stroke-width="0.9"/>
<rect x="433.20" y="396.69" width="4.4" height="4.4" fill="#fff" stroke="#000" stroke-width="0.9"/>
<rect x="446.70" y="392.89" width="4.4" height="4.4" fill="#fff" stroke="#000" stroke-width="0.9"/>
<path d="M354.40 408.82 V420.82 M352.10 408.82 H356.70 M352.10 420.82 H356.70" stroke="#4a4a4a" stroke-width="0.9" fill="none"/>
<path d="M367.90 406.30 V414.30 M365.60 406.30 H370.20 M365.60 414.30 H370.20" stroke="#4a4a4a" stroke-width="0.9" fill="none"/>
<path d="M381.40 399.21 V415.21 M379.10 399.21 H383.70 M379.10 415.21 H383.70" stroke="#4a4a4a" stroke-width="0.9" fill="none"/>
<path d="M394.90 392.78 V407.38 M392.60 392.78 H397.20 M392.60 407.38 H397.20" stroke="#4a4a4a" stroke-width="0.9" fill="none"/>
<path d="M408.40 379.63 V389.63 M406.10 379.63 H410.70 M406.10 389.63 H410.70" stroke="#4a4a4a" stroke-width="0.9" fill="none"/>
<path d="M421.90 365.00 V382.40 M419.60 365.00 H424.20 M419.60 382.40 H424.20" stroke="#4a4a4a" stroke-width="0.9" fill="none"/>
<path d="M435.40 355.93 V372.93 M433.10 355.93 H437.70 M433.10 372.93 H437.70" stroke="#4a4a4a" stroke-width="0.9" fill="none"/>
<path d="M448.90 336.03 V350.03 M446.60 336.03 H451.20 M446.60 350.03 H451.20" stroke="#4a4a4a" stroke-width="0.9" fill="none"/>
<path d="M286.90 421.00 L300.40 421.00 L313.90 421.00 L327.40 418.62 L340.90 416.25 L354.40 414.82 L367.90 410.30 L381.40 407.21 L394.90 400.08 L408.40 384.63 L421.90 373.70 L435.40 364.43 L448.90 343.03" stroke="#000" stroke-width="1.3" fill="none" stroke-linejoin="round"/>
<rect x="284.40" y="418.50" width="5.0" height="5.0" fill="#000"/>
<rect x="297.90" y="418.50" width="5.0" height="5.0" fill="#000"/>
<rect x="311.40" y="418.50" width="5.0" height="5.0" fill="#000"/>
<rect x="324.90" y="416.12" width="5.0" height="5.0" fill="#000"/>
<rect x="338.40" y="413.75" width="5.0" height="5.0" fill="#000"/>
<rect x="351.90" y="412.32" width="5.0" height="5.0" fill="#000"/>
<rect x="365.40" y="407.80" width="5.0" height="5.0" fill="#000"/>
<rect x="378.90" y="404.71" width="5.0" height="5.0" fill="#000"/>
<rect x="392.40" y="397.58" width="5.0" height="5.0" fill="#000"/>
<rect x="405.90" y="382.13" width="5.0" height="5.0" fill="#000"/>
<rect x="419.40" y="371.20" width="5.0" height="5.0" fill="#000"/>
<rect x="432.90" y="361.93" width="5.0" height="5.0" fill="#000"/>
<rect x="446.40" y="340.53" width="5.0" height="5.0" fill="#000"/>
<path d="M394.90 292.45 V308.05 M392.60 292.45 H397.20 M392.60 308.05 H397.20" stroke="#4a4a4a" stroke-width="0.9" fill="none"/>
<path d="M408.40 275.14 V298.74 M406.10 275.14 H410.70 M406.10 298.74 H410.70" stroke="#4a4a4a" stroke-width="0.9" fill="none"/>
<path d="M421.90 262.25 V280.25 M419.60 262.25 H424.20 M419.60 280.25 H424.20" stroke="#4a4a4a" stroke-width="0.9" fill="none"/>
<path d="M435.40 247.06 V264.06 M433.10 247.06 H437.70 M433.10 264.06 H437.70" stroke="#4a4a4a" stroke-width="0.9" fill="none"/>
<path d="M448.90 239.01 V262.61 M446.60 239.01 H451.20 M446.60 262.61 H451.20" stroke="#4a4a4a" stroke-width="0.9" fill="none"/>
<path d="M286.90 421.00 L300.40 421.00 L313.90 418.62 L327.40 411.97 L340.90 407.93 L354.40 399.37 L367.90 372.75 L381.40 341.85 L394.90 300.25 L408.40 286.94 L421.90 271.25 L435.40 255.56 L448.90 250.81" stroke="#000" stroke-width="1.3" fill="none" stroke-linejoin="round"/>
<circle cx="286.90" cy="421.00" r="2.6" fill="#fff" stroke="#000" stroke-width="0.9"/>
<circle cx="300.40" cy="421.00" r="2.6" fill="#fff" stroke="#000" stroke-width="0.9"/>
<circle cx="313.90" cy="418.62" r="2.6" fill="#fff" stroke="#000" stroke-width="0.9"/>
<circle cx="327.40" cy="411.97" r="2.6" fill="#fff" stroke="#000" stroke-width="0.9"/>
<circle cx="340.90" cy="407.93" r="2.6" fill="#fff" stroke="#000" stroke-width="0.9"/>
<circle cx="354.40" cy="399.37" r="2.6" fill="#fff" stroke="#000" stroke-width="0.9"/>
<circle cx="367.90" cy="372.75" r="2.6" fill="#fff" stroke="#000" stroke-width="0.9"/>
<circle cx="381.40" cy="341.85" r="2.6" fill="#fff" stroke="#000" stroke-width="0.9"/>
<circle cx="394.90" cy="300.25" r="2.6" fill="#fff" stroke="#000" stroke-width="0.9"/>
<circle cx="408.40" cy="286.94" r="2.6" fill="#fff" stroke="#000" stroke-width="0.9"/>
<circle cx="421.90" cy="271.25" r="2.6" fill="#fff" stroke="#000" stroke-width="0.9"/>
<circle cx="435.40" cy="255.56" r="2.6" fill="#fff" stroke="#000" stroke-width="0.9"/>
<circle cx="448.90" cy="250.81" r="2.6" fill="#fff" stroke="#000" stroke-width="0.9"/>
<path d="M327.40 402.23 V413.63 M325.10 402.23 H329.70 M325.10 413.63 H329.70" stroke="#4a4a4a" stroke-width="0.9" fill="none"/>
<path d="M340.90 369.87 V399.87 M338.60 369.87 H343.20 M338.60 399.87 H343.20" stroke="#4a4a4a" stroke-width="0.9" fill="none"/>
<path d="M354.40 346.58 V366.58 M352.10 346.58 H356.70 M352.10 366.58 H356.70" stroke="#4a4a4a" stroke-width="0.9" fill="none"/>
<path d="M367.90 319.47 V338.07 M365.60 319.47 H370.20 M365.60 338.07 H370.20" stroke="#4a4a4a" stroke-width="0.9" fill="none"/>
<path d="M381.40 265.33 V297.13 M379.10 265.33 H383.70 M379.10 297.13 H383.70" stroke="#4a4a4a" stroke-width="0.9" fill="none"/>
<path d="M394.90 255.98 V279.38 M392.60 255.98 H397.20 M392.60 279.38 H397.20" stroke="#4a4a4a" stroke-width="0.9" fill="none"/>
<path d="M408.40 248.74 V274.74 M406.10 248.74 H410.70 M406.10 274.74 H410.70" stroke="#4a4a4a" stroke-width="0.9" fill="none"/>
<path d="M421.90 239.35 V252.75 M419.60 239.35 H424.20 M419.60 252.75 H424.20" stroke="#4a4a4a" stroke-width="0.9" fill="none"/>
<path d="M435.40 225.54 V236.14 M433.10 225.54 H437.70 M433.10 236.14 H437.70" stroke="#4a4a4a" stroke-width="0.9" fill="none"/>
<path d="M286.90 421.00 L300.40 421.00 L313.90 416.96 L327.40 407.93 L340.90 384.87 L354.40 356.58 L367.90 328.77 L381.40 281.23 L394.90 267.68 L408.40 261.74 L421.90 246.05 L435.40 230.84 L448.90 224.42" stroke="#000" stroke-width="1.3" fill="none" stroke-linejoin="round"/>
<circle cx="286.90" cy="421.00" r="2.5" fill="#000"/>
<circle cx="300.40" cy="421.00" r="2.5" fill="#000"/>
<circle cx="313.90" cy="416.96" r="2.5" fill="#000"/>
<circle cx="327.40" cy="407.93" r="2.5" fill="#000"/>
<circle cx="340.90" cy="384.87" r="2.5" fill="#000"/>
<circle cx="354.40" cy="356.58" r="2.5" fill="#000"/>
<circle cx="367.90" cy="328.77" r="2.5" fill="#000"/>
<circle cx="381.40" cy="281.23" r="2.5" fill="#000"/>
<circle cx="394.90" cy="267.68" r="2.5" fill="#000"/>
<circle cx="408.40" cy="261.74" r="2.5" fill="#000"/>
<circle cx="421.90" cy="246.05" r="2.5" fill="#000"/>
<circle cx="435.40" cy="230.84" r="2.5" fill="#000"/>
<circle cx="448.90" cy="224.42" r="2.5" fill="#000"/>
<text x="367.3" y="273.0" font-size="15" font-weight="bold" text-anchor="middle" font-family="Liberation Sans, sans-serif" fill="#111" stroke="#111" stroke-width="0.25" >*</text>
<text x="421.9" y="347.0" font-size="15.5" font-weight="bold" text-anchor="middle" font-family="Liberation Sans, sans-serif" fill="#111" stroke="#111" stroke-width="0.25" >*/**</text>
<path d="M460.8 224.4 C464.3 224.4 464.3 225.9 464.3 228.4 L464.3 235.0 C464.3 236.7 465.8 237.5 466.8 237.5 C465.8 237.5 464.3 238.3 464.3 240.0 L464.3 246.6 C464.3 249.1 464.3 250.6 460.8 250.6" stroke="#333" stroke-width="1.2" fill="none"/>
<text x="468.6" y="235.5" font-size="8.2" font-weight="bold" text-anchor="start" font-family="Liberation Sans, sans-serif" fill="#111" stroke="#111" stroke-width="0.25" >Step</text>
<text x="468.6" y="245.2" font-size="8.2" font-weight="bold" text-anchor="start" font-family="Liberation Sans, sans-serif" fill="#111" stroke="#111" stroke-width="0.25" >2</text><path d="M473.7 242.3 H477.4" stroke="#111" stroke-width="1.0"/><path d="M476.5 240.3 L480.3 242.3 L476.5 244.3 Z" fill="#111"/><text x="481.4" y="245.2" font-size="8.2" font-weight="bold" text-anchor="start" font-family="Liberation Sans, sans-serif" fill="#111" stroke="#111" stroke-width="0.25" >3</text>
<path d="M461.5 343 C465.0 343 465.0 344.5 465.0 347 L465.0 366.15 C465.0 367.84999999999997 466.5 368.65 467.5 368.65 C466.5 368.65 465.0 369.45 465.0 371.15 L465.0 390.3 C465.0 392.8 465.0 394.3 461.5 394.3" stroke="#333" stroke-width="1.2" fill="none"/>
<text x="471.0" y="366.6" font-size="8.2" font-weight="bold" text-anchor="start" font-family="Liberation Sans, sans-serif" fill="#111" stroke="#111" stroke-width="0.25" >Step</text>
<text x="471.0" y="376.3" font-size="8.2" font-weight="bold" text-anchor="start" font-family="Liberation Sans, sans-serif" fill="#111" stroke="#111" stroke-width="0.25" >3</text><path d="M476.1 373.4 H479.8" stroke="#111" stroke-width="1.0"/><path d="M478.9 371.4 L482.7 373.4 L478.9 375.4 Z" fill="#111"/><text x="483.8" y="376.3" font-size="8.2" font-weight="bold" text-anchor="start" font-family="Liberation Sans, sans-serif" fill="#111" stroke="#111" stroke-width="0.25" >4</text>
<text x="1.9" y="471.6" font-size="14.5" font-weight="bold" text-anchor="start" font-family="Liberation Sans, sans-serif" fill="#111" stroke="#111" stroke-width="0.25" >D</text>
<path d="M35 464 V702.6 H210" stroke="#777" stroke-width="1" fill="none"/>
<path d="M32 702.60 H35" stroke="#777" stroke-width="1"/>
<text x="30.2" y="705.3" font-size="7.6" font-weight="bold" text-anchor="end" font-family="Liberation Sans, sans-serif" fill="#111" stroke="#111" stroke-width="0.25" >0</text>
<path d="M32 642.95 H35" stroke="#777" stroke-width="1"/>
<text x="30.2" y="645.7" font-size="7.6" font-weight="bold" text-anchor="end" font-family="Liberation Sans, sans-serif" fill="#111" stroke="#111" stroke-width="0.25" >10</text>
<path d="M32 583.30 H35" stroke="#777" stroke-width="1"/>
<text x="30.2" y="586.0" font-size="7.6" font-weight="bold" text-anchor="end" font-family="Liberation Sans, sans-serif" fill="#111" stroke="#111" stroke-width="0.25" >20</text>
<path d="M32 523.65 H35" stroke="#777" stroke-width="1"/>
<text x="30.2" y="526.4" font-size="7.6" font-weight="bold" text-anchor="end" font-family="Liberation Sans, sans-serif" fill="#111" stroke="#111" stroke-width="0.25" >30</text>
<path d="M32 464.00 H35" stroke="#777" stroke-width="1"/>
<text x="30.2" y="466.7" font-size="7.6" font-weight="bold" text-anchor="end" font-family="Liberation Sans, sans-serif" fill="#111" stroke="#111" stroke-width="0.25" >40</text>
<text transform="translate(8.3 580.5) rotate(-90)" font-size="8.15" font-weight="bold" text-anchor="middle" font-family="Liberation Sans, sans-serif" fill="#111" stroke="#111" stroke-width="0.25">% repeat transmigration at 1 h</text>
<path d="M55.65 646.6 V628.7 M48.65 628.7 H62.65" stroke="#666" stroke-width="1" fill="none"/>
<rect x="41.9" y="646.6" width="27.50" height="56.00" fill="#000"/>
<text x="55.1" y="716.5" font-size="8.1" font-weight="bold" text-anchor="middle" font-family="Liberation Sans, sans-serif" fill="#111" stroke="#111" stroke-width="0.25" >-</text>
<path d="M89.65 635.4 V616 M82.65 616 H96.65" stroke="#666" stroke-width="1" fill="none"/>
<rect x="76" y="635.4" width="27.30" height="67.20" fill="#000"/>
<text x="89.1" y="716.5" font-size="8.1" font-weight="bold" text-anchor="middle" font-family="Liberation Sans, sans-serif" fill="#111" stroke="#111" stroke-width="0.25" >Flag</text>
<path d="M123.85 626.1 V606.4 M116.85 606.4 H130.85" stroke="#666" stroke-width="1" fill="none"/>
<rect x="110.1" y="626.1" width="27.50" height="76.50" fill="#000"/>
<text x="123.2" y="716.5" font-size="8.1" font-weight="bold" text-anchor="middle" font-family="Liberation Sans, sans-serif" fill="#111" stroke="#111" stroke-width="0.25" >D22</text>
<path d="M158.05 507 V490.5 M151.05 490.5 H165.05" stroke="#666" stroke-width="1" fill="none"/>
<rect x="144.3" y="507" width="27.50" height="195.60" fill="#000"/>
<text x="157.5" y="716.5" font-size="8.1" font-weight="bold" text-anchor="middle" font-family="Liberation Sans, sans-serif" fill="#111" stroke="#111" stroke-width="0.25" >JAM-C sol</text>
<path d="M191.90 510.8 V492 M184.90 492 H198.90" stroke="#666" stroke-width="1" fill="none"/>
<rect x="178.3" y="510.8" width="27.20" height="191.80" fill="#000"/>
<text x="191.3" y="716.5" font-size="8.1" font-weight="bold" text-anchor="middle" font-family="Liberation Sans, sans-serif" fill="#111" stroke="#111" stroke-width="0.25" >H33</text>
<text x="159.1" y="482.4" font-size="14" font-weight="bold" text-anchor="middle" font-family="Liberation Sans, sans-serif" fill="#111" stroke="#111" stroke-width="0.25" >**</text>
<text x="192.0" y="482.4" font-size="14" font-weight="bold" text-anchor="middle" font-family="Liberation Sans, sans-serif" fill="#111" stroke="#111" stroke-width="0.25" >*</text>
<text x="251.3" y="471.2" font-size="13" font-weight="bold" text-anchor="start" font-family="Liberation Sans, sans-serif" fill="#111" stroke="#111" stroke-width="0.25" >E</text>
<path d="M285.6 463.5 V702.5 H462.3" stroke="#111" stroke-width="1.5" fill="none"/>
<path d="M282.5 702.50 H285.6" stroke="#111" stroke-width="1"/>
<text x="277.8" y="705.3" font-size="7.8" font-weight="bold" text-anchor="end" font-family="Liberation Sans, sans-serif" fill="#111" stroke="#111" stroke-width="0.25" >0</text>
<path d="M282.5 654.74 H285.6" stroke="#111" stroke-width="1"/>
<text x="277.8" y="657.5" font-size="7.8" font-weight="bold" text-anchor="end" font-family="Liberation Sans, sans-serif" fill="#111" stroke="#111" stroke-width="0.25" >20</text>
<path d="M282.5 606.98 H285.6" stroke="#111" stroke-width="1"/>
<text x="277.8" y="609.8" font-size="7.8" font-weight="bold" text-anchor="end" font-family="Liberation Sans, sans-serif" fill="#111" stroke="#111" stroke-width="0.25" >40</text>
<path d="M282.5 559.22 H285.6" stroke="#111" stroke-width="1"/>
<text x="277.8" y="562.0" font-size="7.8" font-weight="bold" text-anchor="end" font-family="Liberation Sans, sans-serif" fill="#111" stroke="#111" stroke-width="0.25" >60</text>
<path d="M282.5 511.46 H285.6" stroke="#111" stroke-width="1"/>
<text x="277.8" y="514.3" font-size="7.8" font-weight="bold" text-anchor="end" font-family="Liberation Sans, sans-serif" fill="#111" stroke="#111" stroke-width="0.25" >80</text>
<path d="M282.5 463.70 H285.6" stroke="#111" stroke-width="1"/>
<text x="277.8" y="466.5" font-size="7.8" font-weight="bold" text-anchor="end" font-family="Liberation Sans, sans-serif" fill="#111" stroke="#111" stroke-width="0.25" >100</text>
<path d="M284.60 702.5 V705.5" stroke="#111" stroke-width="1"/>
<text x="284.6" y="716.3" font-size="7.8" font-weight="bold" text-anchor="middle" font-family="Liberation Sans, sans-serif" fill="#111" stroke="#111" stroke-width="0.25" >0</text>
<path d="M338.74 702.5 V705.5" stroke="#111" stroke-width="1"/>
<text x="338.7" y="716.3" font-size="7.8" font-weight="bold" text-anchor="middle" font-family="Liberation Sans, sans-serif" fill="#111" stroke="#111" stroke-width="0.25" >20</text>
<path d="M392.88 702.5 V705.5" stroke="#111" stroke-width="1"/>
<text x="392.9" y="716.3" font-size="7.8" font-weight="bold" text-anchor="middle" font-family="Liberation Sans, sans-serif" fill="#111" stroke="#111" stroke-width="0.25" >40</text>
<path d="M447.02 702.5 V705.5" stroke="#111" stroke-width="1"/>
<text x="447.0" y="716.3" font-size="7.8" font-weight="bold" text-anchor="middle" font-family="Liberation Sans, sans-serif" fill="#111" stroke="#111" stroke-width="0.25" >60</text>
<text transform="translate(258.2 582.2) rotate(-90)" font-size="8.1" font-weight="bold" text-anchor="middle" font-family="Liberation Sans, sans-serif" fill="#111" stroke="#111" stroke-width="0.25">% migration</text>
<text x="362.3" y="727.5" font-size="8" font-weight="bold" text-anchor="middle" font-family="Liberation Sans, sans-serif" fill="#111" stroke="#111" stroke-width="0.25" >Time (min)</text>
<rect x="333.5" y="525" width="79.8" height="169.5" stroke="#aaa" stroke-width="1.2" fill="none"/>
<path d="M298.14 615.58 V636.58 M295.84 615.58 H300.44 M295.84 636.58 H300.44" stroke="#666" stroke-width="0.9" fill="none"/>
<path d="M311.67 557.89 V563.89 M309.37 557.89 H313.97 M309.37 563.89 H313.97" stroke="#666" stroke-width="0.9" fill="none"/>
<path d="M325.21 497.83 V513.63 M322.91 497.83 H327.51 M322.91 513.63 H327.51" stroke="#666" stroke-width="0.9" fill="none"/>
<path d="M338.74 480.21 V500.21 M336.44 480.21 H341.04 M336.44 500.21 H341.04" stroke="#666" stroke-width="0.9" fill="none"/>
<path d="M352.28 473.79 V481.79 M349.98 473.79 H354.58 M349.98 481.79 H354.58" stroke="#666" stroke-width="0.9" fill="none"/>
<path d="M365.81 473.31 V481.31 M363.51 473.31 H368.11 M363.51 481.31 H368.11" stroke="#666" stroke-width="0.9" fill="none"/>
<path d="M379.35 468.25 V478.25 M377.05 468.25 H381.65 M377.05 478.25 H381.65" stroke="#666" stroke-width="0.9" fill="none"/>
<path d="M392.88 468.25 V478.25 M390.58 468.25 H395.18 M390.58 478.25 H395.18" stroke="#666" stroke-width="0.9" fill="none"/>
<path d="M406.42 467.15 V473.15 M404.12 467.15 H408.72 M404.12 473.15 H408.72" stroke="#666" stroke-width="0.9" fill="none"/>
<path d="M419.95 464.80 V468.80 M417.65 464.80 H422.25 M417.65 468.80 H422.25" stroke="#666" stroke-width="0.9" fill="none"/>
<path d="M433.49 464.80 V468.80 M431.19 464.80 H435.79 M431.19 468.80 H435.79" stroke="#666" stroke-width="0.9" fill="none"/>
<path d="M447.02 464.80 V468.80 M444.72 464.80 H449.32 M444.72 468.80 H449.32" stroke="#666" stroke-width="0.9" fill="none"/>
<path d="M287.31 702.50 L298.14 626.08 L311.67 560.89 L325.21 505.73 L338.74 490.21 L352.28 477.79 L365.81 477.31 L379.35 473.25 L392.88 473.25 L406.42 470.15 L419.95 466.80 L433.49 466.80 L447.02 466.80" stroke="#333" stroke-width="0.8" fill="none" stroke-linejoin="round"/>
<path d="M287.31 699.64 L289.91 704.32 L284.71 704.32 Z" fill="#000"/>
<path d="M298.14 623.22 L300.74 627.90 L295.54 627.90 Z" fill="#000"/>
<path d="M311.67 558.03 L314.27 562.71 L309.07 562.71 Z" fill="#000"/>
<path d="M325.21 502.87 L327.81 507.55 L322.61 507.55 Z" fill="#000"/>
<path d="M338.74 487.35 L341.34 492.03 L336.14 492.03 Z" fill="#000"/>
<path d="M352.28 474.93 L354.88 479.61 L349.68 479.61 Z" fill="#000"/>
<path d="M365.81 474.45 L368.41 479.13 L363.21 479.13 Z" fill="#000"/>
<path d="M379.35 470.39 L381.95 475.07 L376.75 475.07 Z" fill="#000"/>
<path d="M392.88 470.39 L395.48 475.07 L390.28 475.07 Z" fill="#000"/>
<path d="M406.42 467.29 L409.02 471.97 L403.81 471.97 Z" fill="#000"/>
<path d="M419.95 463.94 L422.55 468.62 L417.35 468.62 Z" fill="#000"/>
<path d="M433.49 463.94 L436.09 468.62 L430.88 468.62 Z" fill="#000"/>
<path d="M447.02 463.94 L449.62 468.62 L444.42 468.62 Z" fill="#000"/>
<path d="M311.67 663.81 V683.41 M309.37 663.81 H313.97 M309.37 683.41 H313.97" stroke="#666" stroke-width="0.9" fill="none"/>
<path d="M325.21 649.41 V672.01 M322.91 649.41 H327.51 M322.91 672.01 H327.51" stroke="#666" stroke-width="0.9" fill="none"/>
<path d="M338.74 608.21 V649.21 M336.44 608.21 H341.04 M336.44 649.21 H341.04" stroke="#666" stroke-width="0.9" fill="none"/>
<path d="M352.28 599.47 V625.47 M349.98 599.47 H354.58 M349.98 625.47 H354.58" stroke="#666" stroke-width="0.9" fill="none"/>
<path d="M365.81 577.48 V614.98 M363.51 577.48 H368.11 M363.51 614.98 H368.11" stroke="#666" stroke-width="0.9" fill="none"/>
<path d="M379.35 561.30 V585.80 M377.05 561.30 H381.65 M377.05 585.80 H381.65" stroke="#666" stroke-width="0.9" fill="none"/>
<path d="M392.88 551.50 V576.50 M390.58 551.50 H395.18 M390.58 576.50 H395.18" stroke="#666" stroke-width="0.9" fill="none"/>
<path d="M406.42 529.60 V566.40 M404.12 529.60 H408.72 M404.12 566.40 H408.72" stroke="#666" stroke-width="0.9" fill="none"/>
<path d="M419.95 529.55 V553.55 M417.65 529.55 H422.25 M417.65 553.55 H422.25" stroke="#666" stroke-width="0.9" fill="none"/>
<path d="M433.49 513.41 V543.41 M431.19 513.41 H435.79 M431.19 543.41 H435.79" stroke="#666" stroke-width="0.9" fill="none"/>
<path d="M447.02 504.23 V539.23 M444.72 504.23 H449.32 M444.72 539.23 H449.32" stroke="#666" stroke-width="0.9" fill="none"/>
<path d="M287.31 702.50 L298.14 702.50 L311.67 673.61 L325.21 660.71 L338.74 628.71 L352.28 612.47 L365.81 596.23 L379.35 573.55 L392.88 564.00 L406.42 548.00 L419.95 541.55 L433.49 528.41 L447.02 521.73" stroke="#222" stroke-width="0.9" fill="none" stroke-linejoin="round"/>
<circle cx="287.31" cy="702.50" r="2.5" fill="#000"/>
<circle cx="298.14" cy="702.50" r="2.5" fill="#000"/>
<circle cx="311.67" cy="673.61" r="2.5" fill="#000"/>
<circle cx="325.21" cy="660.71" r="2.5" fill="#000"/>
<circle cx="338.74" cy="628.71" r="2.5" fill="#000"/>
<circle cx="352.28" cy="612.47" r="2.5" fill="#000"/>
<circle cx="365.81" cy="596.23" r="2.5" fill="#000"/>
<circle cx="379.35" cy="573.55" r="2.5" fill="#000"/>
<circle cx="392.88" cy="564.00" r="2.5" fill="#000"/>
<circle cx="406.42" cy="548.00" r="2.5" fill="#000"/>
<circle cx="419.95" cy="541.55" r="2.5" fill="#000"/>
<circle cx="433.49" cy="528.41" r="2.5" fill="#000"/>
<circle cx="447.02" cy="521.73" r="2.5" fill="#000"/>
<path d="M298.14 659.41 V685.41 M295.84 659.41 H300.44 M295.84 685.41 H300.44" stroke="#666" stroke-width="0.9" fill="none"/>
<path d="M311.67 507.94 V515.94 M309.37 507.94 H313.97 M309.37 515.94 H313.97" stroke="#666" stroke-width="0.9" fill="none"/>
<path d="M338.74 468.51 V479.91 M336.44 468.51 H341.04 M336.44 479.91 H341.04" stroke="#666" stroke-width="0.9" fill="none"/>
<path d="M352.28 468.51 V479.91 M349.98 468.51 H354.58 M349.98 479.91 H354.58" stroke="#666" stroke-width="0.9" fill="none"/>
<path d="M365.81 466.86 V474.86 M363.51 466.86 H368.11 M363.51 474.86 H368.11" stroke="#666" stroke-width="0.9" fill="none"/>
<path d="M379.35 463.30 V470.30 M377.05 463.30 H381.65 M377.05 470.30 H381.65" stroke="#666" stroke-width="0.9" fill="none"/>
<path d="M392.88 463.30 V470.30 M390.58 463.30 H395.18 M390.58 470.30 H395.18" stroke="#666" stroke-width="0.9" fill="none"/>
<path d="M406.42 463.30 V470.30 M404.12 463.30 H408.72 M404.12 470.30 H408.72" stroke="#666" stroke-width="0.9" fill="none"/>
<path d="M419.95 463.30 V470.30 M417.65 463.30 H422.25 M417.65 470.30 H422.25" stroke="#666" stroke-width="0.9" fill="none"/>
<path d="M433.49 463.30 V470.30 M431.19 463.30 H435.79 M431.19 470.30 H435.79" stroke="#666" stroke-width="0.9" fill="none"/>
<path d="M447.02 463.30 V470.30 M444.72 463.30 H449.32 M444.72 470.30 H449.32" stroke="#666" stroke-width="0.9" fill="none"/>
<path d="M287.31 702.50 L298.14 672.41 L311.67 511.94 L325.21 484.24 L338.74 474.21 L352.28 474.21 L365.81 470.86 L379.35 466.80 L392.88 466.80 L406.42 466.80 L419.95 466.80 L433.49 466.80 L447.02 466.80" stroke="#333" stroke-width="0.8" fill="none" stroke-linejoin="round"/>
<path d="M287.31 699.64 L289.91 704.32 L284.71 704.32 Z" fill="#fff" stroke="#000" stroke-width="0.7"/>
<path d="M298.14 669.55 L300.74 674.23 L295.54 674.23 Z" fill="#fff" stroke="#000" stroke-width="0.7"/>
<path d="M311.67 509.08 L314.27 513.76 L309.07 513.76 Z" fill="#fff" stroke="#000" stroke-width="0.7"/>
<path d="M325.21 481.38 L327.81 486.06 L322.61 486.06 Z" fill="#fff" stroke="#000" stroke-width="0.7"/>
<path d="M338.74 471.35 L341.34 476.03 L336.14 476.03 Z" fill="#fff" stroke="#000" stroke-width="0.7"/>
<path d="M352.28 471.35 L354.88 476.03 L349.68 476.03 Z" fill="#fff" stroke="#000" stroke-width="0.7"/>
<path d="M365.81 468.00 L368.41 472.68 L363.21 472.68 Z" fill="#fff" stroke="#000" stroke-width="0.7"/>
<path d="M379.35 463.94 L381.95 468.62 L376.75 468.62 Z" fill="#fff" stroke="#000" stroke-width="0.7"/>
<path d="M392.88 463.94 L395.48 468.62 L390.28 468.62 Z" fill="#fff" stroke="#000" stroke-width="0.7"/>
<path d="M406.42 463.94 L409.02 468.62 L403.81 468.62 Z" fill="#fff" stroke="#000" stroke-width="0.7"/>
<path d="M419.95 463.94 L422.55 468.62 L417.35 468.62 Z" fill="#fff" stroke="#000" stroke-width="0.7"/>
<path d="M433.49 463.94 L436.09 468.62 L430.88 468.62 Z" fill="#fff" stroke="#000" stroke-width="0.7"/>
<path d="M447.02 463.94 L449.62 468.62 L444.42 468.62 Z" fill="#fff" stroke="#000" stroke-width="0.7"/>
<path d="M325.21 686.17 V698.77 M322.91 686.17 H327.51 M322.91 698.77 H327.51" stroke="#666" stroke-width="0.9" fill="none"/>
<path d="M338.74 682.03 V689.53 M336.44 682.03 H341.04 M336.44 689.53 H341.04" stroke="#666" stroke-width="0.9" fill="none"/>
<path d="M352.28 674.62 V683.82 M349.98 674.62 H354.58 M349.98 683.82 H354.58" stroke="#666" stroke-width="0.9" fill="none"/>
<path d="M365.81 651.63 V673.13 M363.51 651.63 H368.11 M363.51 673.13 H368.11" stroke="#666" stroke-width="0.9" fill="none"/>
<path d="M379.35 646.30 V665.10 M377.05 646.30 H381.65 M377.05 665.10 H381.65" stroke="#666" stroke-width="0.9" fill="none"/>
<path d="M392.88 617.71 V656.91 M390.58 617.71 H395.18 M390.58 656.91 H395.18" stroke="#666" stroke-width="0.9" fill="none"/>
<path d="M406.42 605.64 V644.14 M404.12 605.64 H408.72 M404.12 644.14 H408.72" stroke="#666" stroke-width="0.9" fill="none"/>
<path d="M419.95 590.86 V638.86 M417.65 590.86 H422.25 M417.65 638.86 H422.25" stroke="#666" stroke-width="0.9" fill="none"/>
<path d="M433.49 575.08 V634.58 M431.19 575.08 H435.79 M431.19 634.58 H435.79" stroke="#666" stroke-width="0.9" fill="none"/>
<path d="M447.02 570.32 V618.32 M444.72 570.32 H449.32 M444.72 618.32 H449.32" stroke="#666" stroke-width="0.9" fill="none"/>
<path d="M287.31 702.50 L298.14 702.50 L311.67 702.50 L325.21 692.47 L338.74 685.78 L352.28 679.22 L365.81 662.38 L379.35 655.70 L392.88 637.31 L406.42 624.89 L419.95 614.86 L433.49 604.83 L447.02 594.32" stroke="#222" stroke-width="0.9" fill="none" stroke-linejoin="round"/>
<circle cx="287.31" cy="702.50" r="2.5" fill="#fff" stroke="#000" stroke-width="0.9"/>
<circle cx="298.14" cy="702.50" r="2.5" fill="#fff" stroke="#000" stroke-width="0.9"/>
<circle cx="311.67" cy="702.50" r="2.5" fill="#fff" stroke="#000" stroke-width="0.9"/>
<circle cx="325.21" cy="692.47" r="2.5" fill="#fff" stroke="#000" stroke-width="0.9"/>
<circle cx="338.74" cy="685.78" r="2.5" fill="#fff" stroke="#000" stroke-width="0.9"/>
<circle cx="352.28" cy="679.22" r="2.5" fill="#fff" stroke="#000" stroke-width="0.9"/>
<circle cx="365.81" cy="662.38" r="2.5" fill="#fff" stroke="#000" stroke-width="0.9"/>
<circle cx="379.35" cy="655.70" r="2.5" fill="#fff" stroke="#000" stroke-width="0.9"/>
<circle cx="392.88" cy="637.31" r="2.5" fill="#fff" stroke="#000" stroke-width="0.9"/>
<circle cx="406.42" cy="624.89" r="2.5" fill="#fff" stroke="#000" stroke-width="0.9"/>
<circle cx="419.95" cy="614.86" r="2.5" fill="#fff" stroke="#000" stroke-width="0.9"/>
<circle cx="433.49" cy="604.83" r="2.5" fill="#fff" stroke="#000" stroke-width="0.9"/>
<circle cx="447.02" cy="594.32" r="2.5" fill="#fff" stroke="#000" stroke-width="0.9"/>
<text x="372.9" y="541.1" font-size="15.5" font-weight="bold" text-anchor="middle" font-family="Liberation Sans, sans-serif" fill="#111" stroke="#111" stroke-width="0.25" >*/**</text>
<path d="M456.2 462.5 C459.7 462.5 459.7 464.0 459.7 466.5 L459.7 465.65 C459.7 467.34999999999997 461.2 468.15 462.2 468.15 C461.2 468.15 459.7 468.95 459.7 470.65 L459.7 469.8 C459.7 472.3 459.7 473.8 456.2 473.8" stroke="#333" stroke-width="1.2" fill="none"/>
<text x="465.5" y="465.3" font-size="8.2" font-weight="bold" text-anchor="start" font-family="Liberation Sans, sans-serif" fill="#111" stroke="#111" stroke-width="0.25" >Step</text>
<text x="465.5" y="475.0" font-size="8.2" font-weight="bold" text-anchor="start" font-family="Liberation Sans, sans-serif" fill="#111" stroke="#111" stroke-width="0.25" >1</text><path d="M470.6 472.1 H474.3" stroke="#111" stroke-width="1.0"/><path d="M473.4 470.1 L477.2 472.1 L473.4 474.1 Z" fill="#111"/><text x="478.3" y="475.0" font-size="8.2" font-weight="bold" text-anchor="start" font-family="Liberation Sans, sans-serif" fill="#111" stroke="#111" stroke-width="0.25" >2</text>
<path d="M456.2 522.3 C459.7 522.3 459.7 523.8 459.7 526.3 L459.7 555.95 C459.7 557.6500000000001 461.2 558.45 462.2 558.45 C461.2 558.45 459.7 559.25 459.7 560.95 L459.7 590.6 C459.7 593.1 459.7 594.6 456.2 594.6" stroke="#333" stroke-width="1.2" fill="none"/>
<text x="465.5" y="556.6" font-size="8.2" font-weight="bold" text-anchor="start" font-family="Liberation Sans, sans-serif" fill="#111" stroke="#111" stroke-width="0.25" >Step</text>
<text x="465.5" y="566.3" font-size="8.2" font-weight="bold" text-anchor="start" font-family="Liberation Sans, sans-serif" fill="#111" stroke="#111" stroke-width="0.25" >2</text><path d="M470.6 563.4 H474.3" stroke="#111" stroke-width="1.0"/><path d="M473.4 561.4 L477.2 563.4 L473.4 565.4 Z" fill="#111"/><text x="478.3" y="566.3" font-size="8.2" font-weight="bold" text-anchor="start" font-family="Liberation Sans, sans-serif" fill="#111" stroke="#111" stroke-width="0.25" >3</text>
</svg>
</body></html>
